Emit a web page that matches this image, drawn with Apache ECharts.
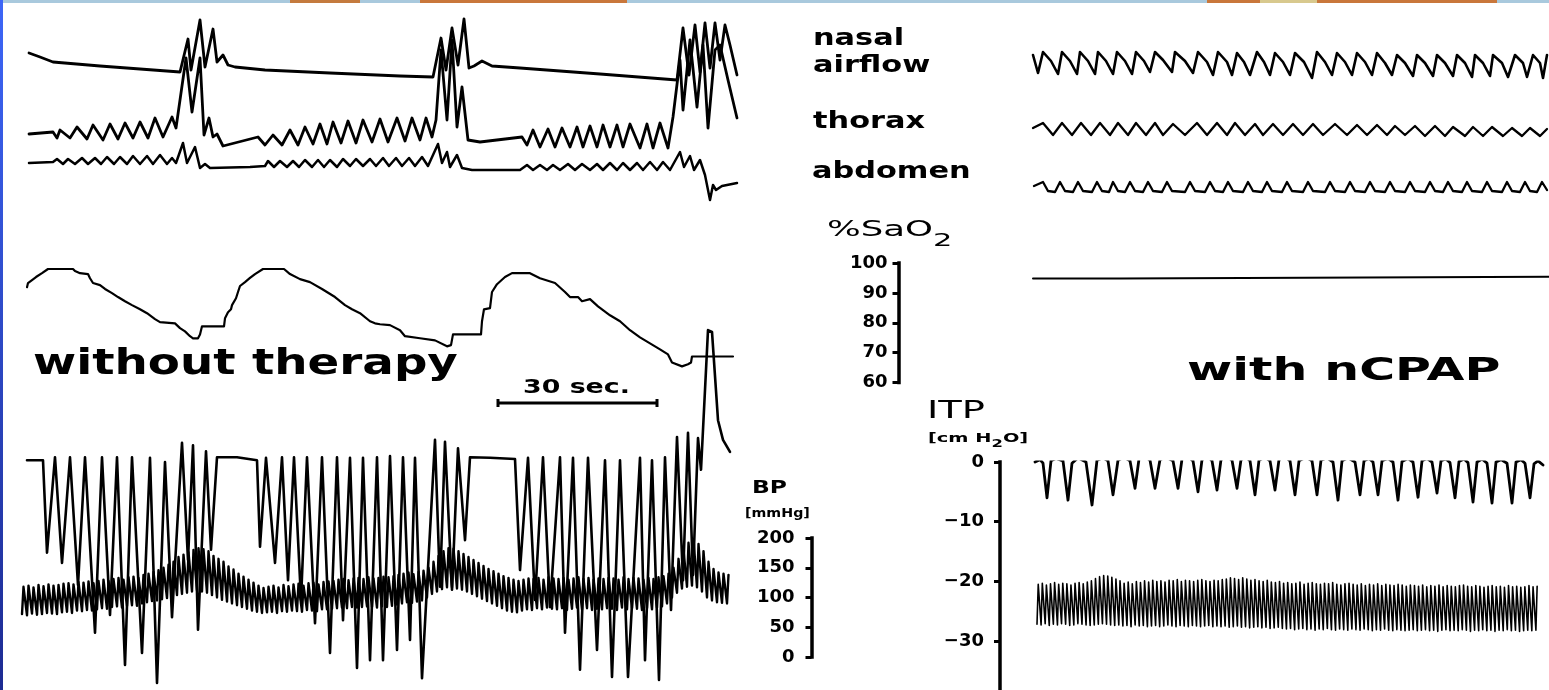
<!DOCTYPE html>
<html><head><meta charset="utf-8">
<script src="https://cdn.jsdelivr.net/npm/echarts/dist/echarts.min.js"></script>
<style>html,body{margin:0;padding:0;background:#fff;}#c{width:1549px;height:690px;}</style>
</head><body><div id="c"></div>
<script>
// ---------------- DATA (time in samples, values in channel units) ----------------
// tick labels
const saTicks = [60, 70, 80, 90, 100];          // %SaO2
const bpTicks = [0, 50, 100, 150, 200];         // BP [mmHg]
const itpTicks = [-30, -20, -10, 0];            // ITP [cm H2O]
const itpFloor = -40;                           // lower extent of ITP scale
const scaleBarSeconds = [0, 30];

// without therapy: respiration (arbitrary units)
const nasalAirflowL = [[9,157],[20,153],[33,148],[80,144],[120,141],[160,138],[168,171],[171,140],[180,190],[185,143],[193,181],[197,148],[203,155],[208,145],[215,143],[245,140],[310,137],[380,134],[413,133],[421,172],[426,140],[432,182],[438,145],[444,191],[449,142],[454,144],[462,149],[472,144],[500,142],[580,136],[657,130],[663,182],[669,135],[675,185],[680,138],[685,187],[690,142],[695,187],[700,150],[705,185],[710,165],[717,135]];
const thoraxL = [[9,76],[33,78],[37,72],[40,80],[50,72],[57,83],[67,71],[73,85],[83,70],[90,86],[98,71],[105,87],[113,72],[120,88],[128,72],[135,92],[143,73],[152,93],[156,82],[166,152],[172,98],[180,152],[184,75],[189,92],[193,73],[197,76],[203,64],[238,73],[245,65],[253,75],[262,65],[270,80],[278,65],[285,83],[293,66],[300,86],[307,66],[313,88],[321,67],[328,89],[336,67],[343,90],[352,68],[360,91],[368,68],[377,92],[385,69],[392,92],[400,70],[406,92],[412,73],[416,90],[421,160],[427,90],[432,170],[437,83],[442,123],[448,70],[460,68],[502,73],[507,65],[513,80],[520,63],[528,81],[535,63],[542,82],[550,63],[557,83],[563,63],[570,84],[577,63],[583,85],[590,63],[597,85],[603,63],[610,86],[620,62],[627,86],[633,62],[640,87],[648,62],[653,93],[660,150],[663,100],[670,170],[677,103],[683,165],[688,82],[695,160],[700,165],[708,130],[717,92]];
const abdomenL = [[9,47],[33,48],[37,51],[43,46],[48,51],[55,46],[62,52],[68,46],[75,52],[81,46],[87,53],[94,46],[100,53],[107,46],[113,54],[120,46],[127,54],[133,46],[140,55],[147,46],[152,52],[156,47],[163,67],[167,47],[175,63],[180,42],[185,46],[190,42],[230,43],[245,44],[248,49],[254,43],[260,49],[267,43],[273,49],[279,43],[285,50],[292,43],[298,50],[304,43],[310,50],[317,43],[323,51],[330,44],[336,51],[343,44],[350,51],[356,44],[363,52],[369,44],[376,52],[382,44],[389,52],[395,44],[402,53],[408,44],[418,66],[422,47],[427,58],[430,43],[437,55],[442,42],[452,40],[500,40],[507,45],[513,40],[520,45],[527,40],[533,45],[540,40],[548,46],[555,40],[562,46],[570,40],[577,46],[583,40],[590,47],[597,40],[603,47],[610,40],[617,47],[623,40],[630,48],[637,40],[643,48],[650,40],[660,58],[664,43],[670,54],[674,40],[680,50],[685,35],[690,10],[693,25],[696,20],[702,24],[717,27]];

// with nCPAP: respiration
const nasalAirflowR = [[3,155],[8,137],[13,158],[21,149],[28,136],[32,158],[40,149],[47,136],[50,158],[58,149],[65,136],[68,158],[76,149],[83,136],[87,158],[95,149],[102,136],[106,158],[114,149],[120,138],[125,158],[133,150],[142,138],[145,158],[155,149],[163,137],[168,158],[177,148],[183,135],[188,158],[197,148],[202,135],[207,157],[214,148],[220,135],[227,158],[234,148],[240,135],[245,157],[253,148],[260,135],[265,157],[274,148],[282,132],[287,158],[295,148],[302,135],[307,157],[315,148],[322,135],[327,157],[335,148],[342,135],[347,157],[355,147],[362,135],[367,155],[375,147],[383,134],[387,155],[395,147],[403,134],[407,155],[415,147],[423,134],[427,155],[435,147],[442,133],[445,155],[453,147],[460,134],[463,155],[472,147],[478,133],[485,155],[493,147],[497,133],[503,155],[510,147],[513,132],[517,155]];
const thoraxR = [[3,82],[13,87],[23,75],[32,87],[42,75],[51,87],[61,75],[70,87],[80,75],[88,87],[98,75],[106,87],[116,75],[125,87],[133,75],[143,86],[155,75],[167,87],[177,75],[187,87],[197,75],[205,87],[215,75],[225,86],[233,75],[243,86],[253,75],[263,86],[273,75],[283,86],[293,75],[305,86],[317,75],[327,85],[337,75],[347,85],[357,75],[365,84],[375,75],[385,84],[395,74],[405,84],[415,74],[423,83],[435,74],[443,83],[453,74],[462,83],[473,74],[482,82],[492,74],[500,82],[510,74],[517,81]];
const abdomenR = [[4,24],[13,28],[18,19],[25,18],[30,28],[35,19],[43,18],[48,28],[53,19],[62,18],[67,28],[72,19],[79,18],[83,28],[88,19],[95,18],[100,28],[105,19],[113,18],[118,28],[123,19],[132,18],[137,28],[142,19],[155,18],[160,28],[165,19],[175,18],[180,28],[185,19],[193,18],[198,28],[203,19],[213,18],[218,28],[223,19],[232,18],[237,28],[242,19],[252,18],[257,28],[262,19],[273,18],[278,28],[283,19],[295,18],[300,28],[305,19],[315,18],[320,28],[325,19],[335,18],[340,28],[345,19],[355,18],[360,28],[365,19],[375,18],[380,28],[385,19],[395,18],[400,28],[405,19],[413,18],[418,28],[423,19],[432,18],[437,28],[442,19],[452,18],[457,28],[462,19],[472,18],[477,28],[482,19],[490,18],[495,28],[500,19],[507,18],[512,28],[517,20]];

// %SaO2
const sao2L = [[7,91.9],[8,93.3],[12,94.3],[16,95.3],[22,96.6],[28,98.0],[53,98.0],[55,97.3],[60,96.6],[68,96.3],[70,94.9],[73,93.3],[80,92.6],[85,91.3],[92,89.9],[98,88.6],[105,87.2],[112,85.9],[120,84.5],[127,83.2],[135,81.2],[140,80.2],[155,79.8],[160,78.2],[165,77.1],[170,75.5],[173,74.8],[178,74.8],[180,76.1],[182,78.8],[204,78.8],[205,81.5],[208,83.5],[211,84.5],[212,85.9],[216,88.2],[218,90.3],[220,92.3],[225,93.6],[230,95.0],[235,96.3],[243,98.0],[264,98.0],[270,96.3],[280,94.6],[290,93.6],[302,91.3],[315,88.6],[325,85.9],[332,84.5],[340,83.2],[350,80.5],[355,79.8],[360,79.5],[370,79.2],[380,77.5],[385,75.5],[400,74.8],[415,74.1],[427,72.1],[431,72.5],[433,76.1],[461,76.1],[462,80.5],[464,84.5],[470,84.9],[472,90.3],[477,92.9],[485,95.3],[492,96.6],[510,96.6],[520,94.9],[535,93.3],[545,90.3],[550,88.6],[558,88.6],[562,87.2],[570,87.9],[578,85.5],[590,82.5],[600,80.5],[610,77.5],[620,75.1],[630,73.1],[640,71.1],[648,69.4],[652,66.7],[662,65.4],[668,66.1],[671,66.7],[672,68.7],[713,68.7]];
const sao2R = [[3,94.8],[90,94.8],[92,95.4],[519,95.4]];

// ITP [cm H2O]
const itpL = [[7,0.3],[23,0.3],[27,-15.2],[35,0.8],[42,-16.9],[50,0.8],[58,-20.6],[65,0.8],[75,-28.6],[82,0.8],[90,-25.6],[97,0.8],[105,-34.0],[112,0.8],[122,-32.0],[130,0.7],[137,-37.0],[145,0.0],[152,-26.0],[162,3.2],[168,-16.4],[173,2.8],[178,-28.1],[186,1.8],[191,-14.7],[197,0.8],[217,0.8],[237,0.3],[240,-14.2],[246,0.7],[255,-16.9],[262,0.8],[268,-19.8],[274,0.8],[281,-23.1],[287,0.8],[295,-27.0],[302,0.8],[310,-32.0],[317,0.8],[323,-26.5],[330,0.7],[337,-34.5],[343,0.7],[350,-33.2],[357,0.8],[363,-33.2],[370,1.0],[377,-31.5],[383,0.8],[390,-29.8],[395,0.7],[402,-36.2],[415,3.7],[420,-20.9],[425,3.4],[432,-21.4],[438,2.3],[445,-13.1],[450,0.8],[470,0.7],[495,0.5],[500,-18.1],[508,0.7],[515,-23.1],[523,0.8],[530,-24.3],[540,0.8],[545,-28.6],[553,0.7],[560,-34.8],[568,0.7],[577,-31.5],[585,0.3],[592,-36.0],[600,0.3],[608,-36.0],[620,0.7],[625,-33.2],[632,0.3],[639,-36.5],[645,0.8],[651,-24.8],[657,4.2],[663,-19.8],[668,4.9],[673,-18.9],[678,4.0],[681,-1.3],[688,22.1],[692,21.8],[698,7.0],[703,3.7],[710,1.7]];
const itpR = [[5,0.0],[10,0.4],[13,-0.2],[17,-6.0],[21,0.2],[26,0.6],[33,0.2],[38,-6.4],[42,-0.2],[48,0.7],[56,0.0],[62,-7.2],[67,0.3],[73,0.7],[78,0.2],[83,-5.5],[88,0.3],[94,0.8],[100,0.2],[105,-4.4],[109,0.5],[115,0.9],[120,0.3],[125,-4.4],[130,0.4],[136,0.8],[143,0.2],[148,-4.4],[152,0.5],[158,0.9],[163,0.2],[168,-5.0],[172,0.4],[178,0.9],[182,0.2],[187,-4.7],[191,0.4],[197,0.9],[202,0.3],[207,-4.4],[211,0.4],[216,0.8],[220,0.2],[225,-5.5],[229,0.3],[235,0.8],[240,0.2],[245,-4.7],[249,0.4],[255,0.9],[260,0.2],[265,-5.5],[269,0.2],[276,0.8],[282,0.2],[287,-5.5],[291,0.3],[297,0.7],[303,0.0],[308,-6.4],[312,0.2],[318,0.7],[325,0.0],[330,-5.5],[334,0.2],[339,0.6],[343,0.0],[348,-5.5],[352,0.2],[358,0.6],[363,0.0],[368,-6.4],[372,0.1],[378,0.6],[383,0.0],[388,-5.9],[392,0.2],[397,0.6],[402,0.0],[407,-5.2],[411,0.2],[416,0.5],[420,-0.1],[425,-6.0],[429,0.1],[434,0.5],[438,-0.1],[443,-6.7],[447,0.0],[452,0.5],[457,-0.2],[462,-6.9],[466,0.0],[471,0.4],[477,-0.2],[482,-6.9],[486,0.0],[491,0.4],[495,-0.2],[500,-6.0],[504,-0.3],[508,0.2],[513,-0.5]];

// BP [mmHg], one value per heart beat
const bpSysL = [118,120,117,121,119,122,120,121, 123,124,122,126,125,127,124,128, 130,128,131,133,130,134,135,133,138,140, 143,146,150,155,160, 168,172,176,180,183,181,178,170, 165,160,152,147,140,135,130,125,120,116, 118,120,117,121,119,122,123,120,124,125,122,126,127, 128,130,131,129,132,133,131,134,132,133,135,134,136,138, 140,142,139,143,145,150, 160,170,178,183,182,178, 173,168,163,158,153,148,144,140,136,133,130,128, 130,132,131,133,130,134,132,131,133,130,132,134,131,133,130,132,131,133,132,130,134,131,133,132,130,133,131,134,136,140, 150,165,180,192,198,190,178, 160,148,142,140,138];
const bpDiaL = [72,70,73,71,72,74,73,72, 75,76,74,78,77,79,78,80, 82,81,84,85,83,86,87,86,90,92, 94,95,97,99,101, 104,106,108,110,112,110,108,104, 100,96,93,90,87,84,81,78,76,74, 75,76,74,77,76,78,77,76,79,78,77,80,80, 81,82,83,82,84,83,84,85,84,83,85,84,86,88, 90,92,91,93,95,100, 106,110,114,117,117,115, 113,110,106,102,98,94,90,86,82,78,76,75, 78,80,79,82,80,83,81,80,82,79,81,83,80,82,79,81,80,82,81,79,83,80,82,81,79,82,80,83,85,90, 100,108,115,118,120,117,110, 100,95,92,91,90];
const bpSysR = [122,124,121,123,125,122,124,123,121,124,125,123,126,128, 132,135,137,136,134,131,128, 124,126,123,127,125,128,126,129,127,128,126,129,128,130,127,129,128,127,129,130,128,127,129,128, 130,131,133,132,130,133,131,129,130,128,127,129,126,125,127,124, 125,123,124,126,122,124,125,123,122,124,123,125,122,121,123,124,122,121,123,120,122,121,123,120,122,121,120,122,121,119, 121,120,119,121,118,120,119,121,118,120,119,118,120,121,119,118,120,119,117,119,120,118,119,117,120,118,119,117,118,120,118,119];
const bpDiaR = [55,54,56,53,55,54,56,55,53,54,56,55,54,53, 54,55,56,55,54,53,54, 52,53,51,54,52,53,51,52,53,51,52,54,52,51,53,52,51,53,52,51,52,53,51,52, 51,52,50,51,52,50,51,49,50,51,49,50,48,49,50,48, 47,48,46,47,48,46,47,45,47,46,48,46,45,47,46,45,47,46,45,47,46,44,46,45,47,45,44,46,45,44, 45,46,44,45,46,44,45,43,45,46,44,45,44,46,45,43,45,44,46,44,45,43,45,44,46,44,45,43,44,45,44,45];

// ---------------- BUILD ----------------
function beats(sys, dia) {
  const out = [];
  sys.forEach((s, k) => { out.push([k, dia[k]]); out.push([k + 0.3, s]); });
  return out;
}
const FONT = 'DejaVu Sans';
const grids = [
  {left:20, top:0, width:720, height:210},        // 0 respiration, without therapy
  {left:1030, top:0, width:519, height:210},      // 1 respiration, nCPAP
  {left:20, top:263, width:720, height:119.5},    // 2 SaO2 left
  {left:898.5, top:263, width:10, height:119.5},  // 3 SaO2 scale
  {left:1030, top:263, width:519, height:119.5},  // 4 SaO2 right
  {left:20, top:462, width:720, height:238.8},    // 5 ITP left
  {left:22, top:538, width:710, height:119},      // 6 BP left
  {left:811.5, top:538, width:10, height:119},    // 7 BP scale
  {left:1000, top:462, width:10, height:238.8},   // 8 ITP scale
  {left:1030, top:462, width:519, height:238.8},  // 9 ITP right
  {left:1037, top:538, width:503, height:119},    // 10 BP right
  {left:498, top:398, width:159, height:10}       // 11 30 s bar
];
const xMax = [720, 519, 720, 1, 519, 720, bpSysL.length, 1, 1, 519, bpSysR.length, scaleBarSeconds[1]];
const saRange = [saTicks[0], saTicks[saTicks.length-1], saTicks[1]-saTicks[0]];
const bpRange = [bpTicks[0], bpTicks[bpTicks.length-1], bpTicks[1]-bpTicks[0]];
const itpRange = [itpFloor, itpTicks[itpTicks.length-1], itpTicks[1]-itpTicks[0]];
const yRanges = [[0,210],[0,210],saRange,saRange,saRange,itpRange,bpRange,bpRange,itpRange,itpRange,bpRange,[0,1]];
const visibleY = {3: 11, 7: 17, 8: 16};

const xAxis = grids.map((g, i) => ({gridIndex:i, type:'value', min:0, max:xMax[i], show:false}));
const yAxis = grids.map((g, i) => {
  const r = yRanges[i];
  const ax = {gridIndex:i, type:'value', min:r[0], max:r[1], splitLine:{show:false}};
  if (r[2] !== undefined) ax.interval = r[2];
  if (visibleY[i] === undefined) { ax.show = false; return ax; }
  ax.show = true;
  ax.position = 'left';
  ax.axisLine = {show:true, lineStyle:{color:'#000', width:3.5, cap:'square'}};
  ax.axisTick = {show:true, inside:false, length:6, lineStyle:{color:'#000', width:3}};
  ax.axisLabel = {show:true, color:'#000', fontFamily:FONT, fontWeight:'bold', fontSize:18,
    margin:visibleY[i], formatter: v => v < 0 ? '\u2212' + Math.abs(v) : String(v)};
  return ax;
});

function line(name, i, data, width, clip) {
  return {type:'line', name, xAxisIndex:i, yAxisIndex:i, data, symbol:'none', silent:true,
    clip: clip !== false, lineStyle:{color:'#000', width, join:'round', cap:'round'}};
}
const series = [
  line('nasal airflow (without therapy)', 0, nasalAirflowL, 2.8),
  line('thorax (without therapy)', 0, thoraxL, 2.8),
  line('abdomen (without therapy)', 0, abdomenL, 2.5),
  line('nasal airflow (nCPAP)', 1, nasalAirflowR, 2.6),
  line('thorax (nCPAP)', 1, thoraxR, 2.3),
  line('abdomen (nCPAP)', 1, abdomenR, 2.3),
  line('%SaO2 (without therapy)', 2, sao2L, 2.2),
  line('%SaO2 (nCPAP)', 4, sao2R, 2),
  line('BP (without therapy)', 6, beats(bpSysL, bpDiaL), 2.4),
  line('ITP (without therapy)', 5, itpL, 2.6, false),
  line('ITP (nCPAP)', 9, itpR, 2.8),
  line('BP (nCPAP)', 10, beats(bpSysR, bpDiaR), 1.6),
  {type:'line', name:'30 sec.', xAxisIndex:11, yAxisIndex:11, silent:true, clip:false,
   data: scaleBarSeconds.map(s => [s, 0.5]), symbol:'rect', symbolSize:[3,8], showSymbol:true,
   itemStyle:{color:'#000'}, lineStyle:{color:'#000', width:3}}
];

function txt(text, x, y, size, weight, sx, extra) {
  const st = Object.assign({text, fill:'#000', font: weight + ' ' + size + 'px "' + FONT + '"',
    align:'left', verticalAlign:'middle'}, extra || {});
  return {type:'text', x, y, scaleX:sx, originX:0, originY:0, silent:true, style:st};
}
const graphic = [
  {type:'rect', shape:{x:0, y:0, width:1549, height:3}, style:{fill:'#a9c9dd'}, silent:true},
  {type:'rect', shape:{x:290, y:0, width:70, height:3}, style:{fill:'#c47a3e'}, silent:true},
  {type:'rect', shape:{x:420, y:0, width:207, height:3}, style:{fill:'#c9773b'}, silent:true},
  {type:'rect', shape:{x:1207, y:0, width:290, height:3}, style:{fill:'#c9773b'}, silent:true},
  {type:'rect', shape:{x:1260, y:0, width:57, height:3}, style:{fill:'#d8c98e'}, silent:true},
  {type:'rect', shape:{x:0, y:0, width:3, height:690}, silent:true,
   style:{fill:{type:'linear', x:0, y:0, x2:0, y2:1, colorStops:[{offset:0, color:'#3d66f7'},{offset:1, color:'#1d2b92'}]}}},
  txt('nasal', 813, 39, 23, 'bold', 1.32),
  txt('airflow', 813, 66, 23, 'bold', 1.32),
  txt('thorax', 813, 122.5, 23, 'bold', 1.32),
  txt('abdomen', 812, 172, 23, 'bold', 1.32),
  txt('without therapy', 33, 364.8, 35, 'bold', 1.336),
  txt('with nCPAP', 1187, 372, 32, 'bold', 1.53),
  txt('30 sec.', 523, 388, 20, 'bold', 1.34),
  txt('ITP', 927, 411.4, 25, 'normal', 1.54),
  txt('BP', 752, 488.8, 18, 'bold', 1.30),
  txt('[mmHg]', 745, 513.7, 12.5, 'bold', 1.14),
  {type:'text', x:827, y:220.5, scaleX:1.69, silent:true,
   style:{text:'{a|%SaO}{b|2}', fill:'#000', align:'left', verticalAlign:'top',
     rich:{a:{fontFamily:FONT, fontSize:21, fill:'#000', verticalAlign:'top'},
           b:{fontFamily:FONT, fontSize:18, fill:'#000', verticalAlign:'top', padding:[12,0,0,0]}}}},
  {type:'text', x:928, y:432.5, scaleX:1.49, silent:true,
   style:{text:'{a|[cm H}{b|2}{a|O]}', fill:'#000', align:'left', verticalAlign:'top',
     rich:{a:{fontFamily:FONT, fontWeight:'bold', fontSize:13, fill:'#000', verticalAlign:'top'},
           b:{fontFamily:FONT, fontWeight:'bold', fontSize:11, fill:'#000', verticalAlign:'top', padding:[6,0,0,0]}}}}
];

const chart = echarts.init(document.getElementById('c'), null, {renderer:'canvas', width:1549, height:690});
chart.setOption({
  animation:false,
  backgroundColor:'#fff',
  grid: grids.map(g => Object.assign({containLabel:false, outerBoundsMode:'none'}, g)),
  xAxis, yAxis, series, graphic
});
</script></body></html>
